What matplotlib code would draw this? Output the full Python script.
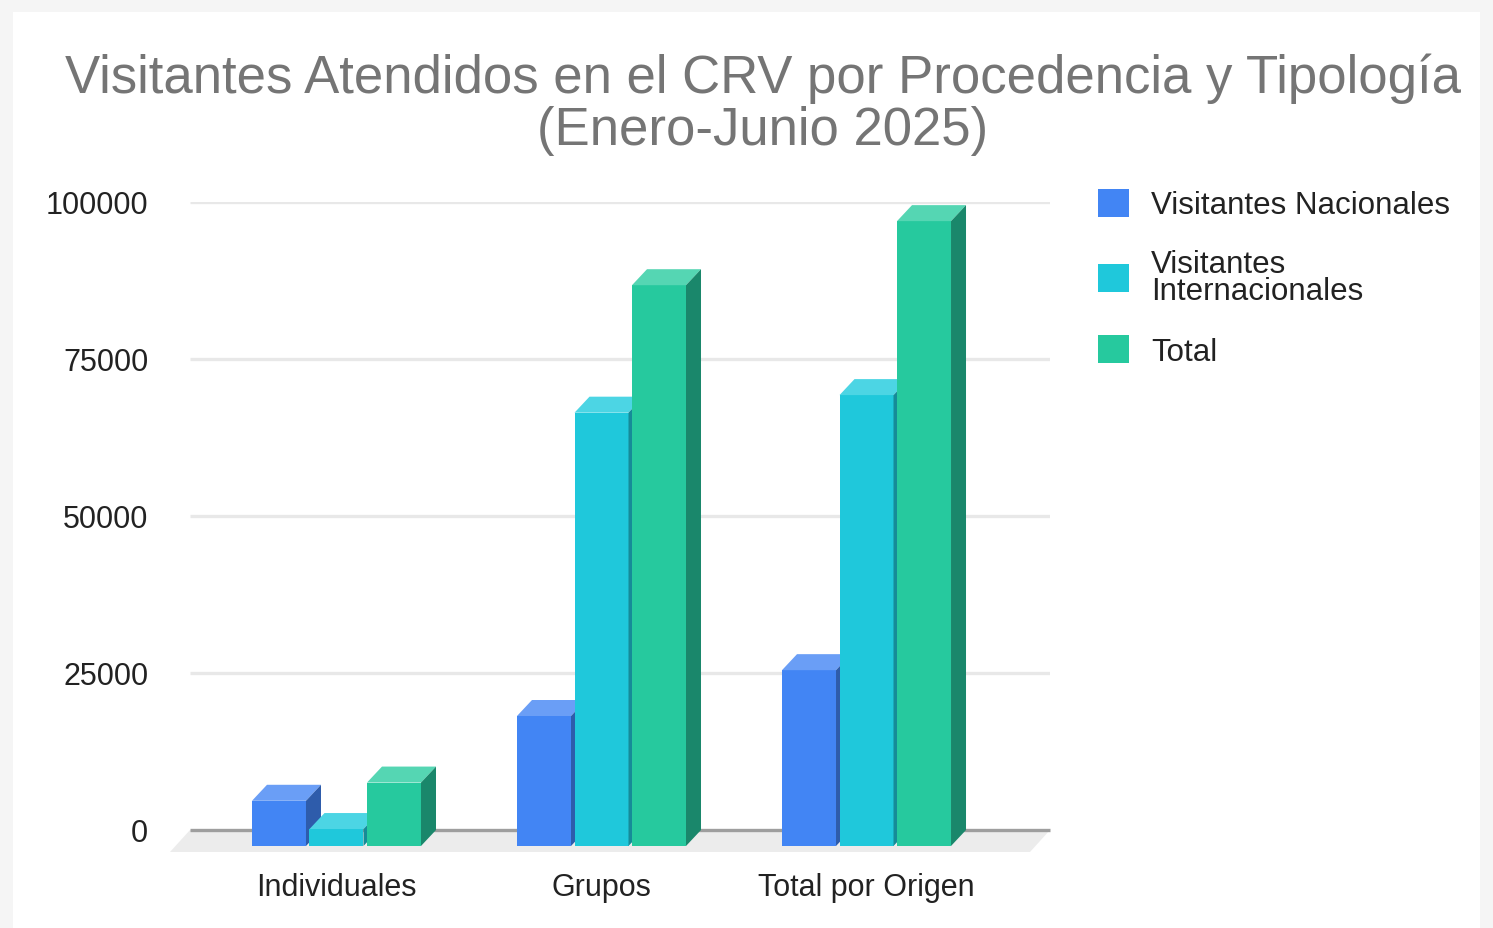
import matplotlib.pyplot as plt
from matplotlib.patches import Polygon, Rectangle, Patch

# data
categories = ['Individuales', 'Grupos', 'Total por Origen']
series = ['Visitantes Nacionales', 'Visitantes\nInternacionales', 'Total']
nacionales = [7200, 20700, 28000]
internacionales = [2700, 69000, 71800]
total = [10100, 89300, 99500]
yticks = [0, 25000, 50000, 75000, 100000]

values = [nacionales, internacionales, total]
front_cols = ['#4285f4', '#1fc8db', '#26c99e']
top_cols = ['#6a9ef6', '#4cd5e4', '#55d6b3']
side_cols = ['#2e5cab', '#168b98', '#1a876b']

plt.rcParams['font.family'] = ['Liberation Sans', 'DejaVu Sans']

W, H = 1493, 929
fig = plt.figure(figsize=(W / 100, H / 100), dpi=100)
fig.patch.set_facecolor('#f5f5f5')
fig.patches.append(Rectangle((13 / W, 0), (1480 - 13) / W, 1 - 13 / H,
                             transform=fig.transFigure, facecolor='white',
                             edgecolor='none', zorder=-5))

ax = fig.add_axes([190 / W, 1 - 831 / H, 860 / W, 628 / H])
ax.set_zorder(2)
ax.set_facecolor('none')
x0, x1 = -0.6094, 2.6358
ax.set_xlim(x0, x1)
ax.set_ylim(0, 100000)

px_x = 265.0          # pixels per category
px_y = 628.0 / 100000  # pixels per unit
dx = 15 / px_x        # depth shift of bars
dy = 16 / px_y
fdx = 20 / px_x       # floor depth
fdy = 22 / px_y
w = 54 / px_x
step = 57.5 / px_x

# floor
ax.add_patch(Polygon([(x0, 0), (x1, 0), (x1 - fdx, -fdy), (x0 - fdx, -fdy)],
                     closed=True, facecolor='#ececec', edgecolor='none',
                     clip_on=False, zorder=1))
for t in yticks[1:]:
    ax.hlines(t, x0, x1, color='#e8e8e8', lw=2.4, zorder=1)
ax.hlines(0, x0, x1, color='#9e9e9e', lw=2.4, zorder=2, clip_on=False)

z = 3
for i in range(len(categories)):
    for j in range(len(series)):
        v = values[j][i]
        left = i - dx + (j - 1) * step - w / 2
        right = left + w
        bot = -dy
        top = v - dy
        ax.add_patch(Polygon([(left, bot), (right, bot), (right, top), (left, top)],
                             facecolor=front_cols[j], edgecolor='none', clip_on=False, zorder=z))
        ax.add_patch(Polygon([(left, top), (right, top), (right + dx, v), (left + dx, v)],
                             facecolor=top_cols[j], edgecolor='none', clip_on=False, zorder=z))
        ax.add_patch(Polygon([(right, bot), (right + dx, 0), (right + dx, v), (right, top)],
                             facecolor=side_cols[j], edgecolor='none', clip_on=False, zorder=z))
        z += 1

ax.set_yticks(yticks)
ax.set_yticklabels([str(t) for t in yticks])
ax.set_xticks([i - dx for i in range(len(categories))])
ax.set_xticklabels(categories)
ax.tick_params(axis='y', length=0, pad=30, labelsize=22, labelcolor='#222222')
ax.tick_params(axis='x', length=0, pad=30, labelsize=22, labelcolor='#222222')
for s in ax.spines.values():
    s.set_visible(False)

fig.text(763 / W, 1 - 105 / H,
         'Visitantes Atendidos en el CRV por Procedencia y Tipología\n(Enero-Junio 2025)',
         ha='center', va='center', fontsize=38, color='#757575', linespacing=1.05)

handles = [Patch(facecolor=c, edgecolor='none') for c in front_cols]
leg = fig.legend(handles, series, loc='upper left', bbox_to_anchor=(1082 / W, 1 - 174 / H),
                 frameon=False, fontsize=22.5, labelcolor='#222222', handlelength=1.0,
                 handleheight=1.0, handletextpad=0.7, labelspacing=0.93, borderpad=0)
for t in leg.get_texts():
    t.set_linespacing(0.85)

fig.savefig('out.png', dpi=100, facecolor=fig.get_facecolor())
